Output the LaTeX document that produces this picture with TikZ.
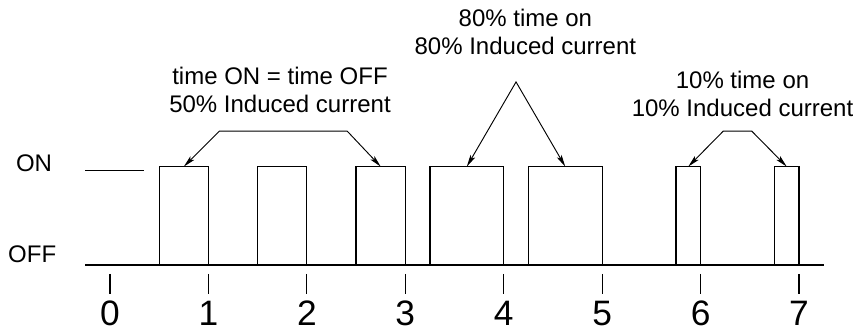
\documentclass[tikz,border=0pt]{standalone}
\usepackage{fontspec}
\setmainfont{Liberation Sans}
\usetikzlibrary{arrows.meta}

\begin{document}
\begin{tikzpicture}[x=73.82pt, y=73.82pt, line width=0.9pt,
	every node/.style={font=\fontsize{18pt}{21pt}\selectfont, inner sep=0pt},
	>={Stealth[length=9pt, width=4pt, inset=2pt]}]
	\useasboundingbox (-1.1176,-0.6705) rectangle (7.5687,2.6923);
	% levels
	\node[anchor=base] (on) at (-0.772,0.945) {ON};
	\node[anchor=base] (off) at (-0.79,0.03) {OFF};
	\draw (-0.25,0.96) -- (0.35,0.96);
	\draw (-0.25,0) -- (7.25,0);
	% pulses
	\foreach \a/\b [count=\i] in {0.5/1, 1.5/2, 2.5/3, 3.25/4, 4.25/5, 5.75/6, 6.75/7} {
		\draw (\a,0) rectangle (\b,1);
		\coordinate (p\i) at ({(\a+\b)/2},1);
	}
	% time axis
	\foreach \i in {0,...,7} {
		\draw (\i,-0.09) -- (\i,-0.295);
		\node[anchor=base, font=\fontsize{26.5pt}{28pt}\selectfont] (t\i) at (\i,-0.61) {\i};
	}
	% labels
	\node[anchor=south, align=center] (lblA) at (1.727,1.54) {time ON = time OFF\\50\% Induced current};
	\node[anchor=south, align=center] (lblB) at (4.22,2.133) {80\% time on\\80\% Induced current};
	\node[anchor=south, align=center] (lblC) at (6.426,1.505) {10\% time on\\10\% Induced current};
	\coordinate (kA1) at (1.11,1.36);
	\coordinate (kA2) at (2.41,1.36);
	\coordinate (kB) at (4.125,1.86);
	\coordinate (kC1) at (6.23,1.36);
	\coordinate (kC2) at (6.52,1.36);
	\draw[<->, line width=0.7pt] (p1) -- (kA1) -- (kA2) -- (p3);
	\draw[<->, line width=0.7pt] (p4) -- (kB) -- (p5);
	\draw[<->, line width=0.7pt] (p6) -- (kC1) -- (kC2) -- (p7);
\end{tikzpicture}
\end{document}
